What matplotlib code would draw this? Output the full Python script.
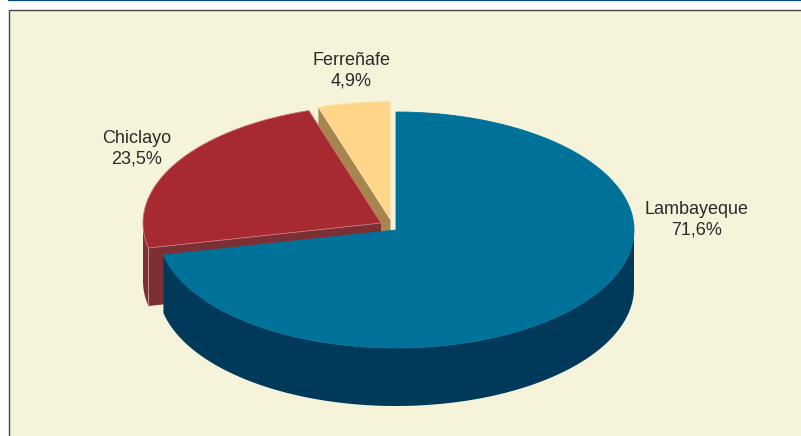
import numpy as np
import matplotlib
matplotlib.use('Agg')
import matplotlib.pyplot as plt
from matplotlib.patches import Polygon, Rectangle

# Data
provinces = ['Lambayeque', 'Chiclayo', 'Ferreñafe']
shares = [71.6, 23.5, 4.9]

top_colors = ['#007299', '#A62A30', '#FFD58A']
side_colors = ['#00395A', '#7D2F36', '#A8854C']
edge_colors = ['#007299', '#C9787C', '#FFE6B0']

# Pie geometry in pixels
centers = [(396, 230), (381, 223), (390.5, 219.5)]
rx, ry = 238, 118
depth = 58
label_pos = [(697, 220), (137, 149), (351, 70.5)]

plt.rcParams['font.family'] = ['Liberation Sans', 'DejaVu Sans']

fig = plt.figure(figsize=(8.01, 4.36), dpi=100)
ax = fig.add_axes([0, 0, 1, 1])
ax.set_xlim(0, 801)
ax.set_ylim(436, 0)
ax.axis('off')

# Background panel and top rule
ax.add_patch(Rectangle((8.5, 10.5), 800, 440, fc='#F5F3D9', ec='#444444', lw=1.0))
ax.plot([8, 801], [0.5, 0.5], color='#004A80', lw=1.6, solid_capstyle='butt')


def arc(center, a0, a1, dy=0):
    a = np.radians(np.linspace(a0, a1, 200))
    return np.column_stack([center[0] + rx * np.cos(a), center[1] - ry * np.sin(a) + dy])


def cut_face(c, p, color):
    ax.add_patch(Polygon([c, p, (p[0], p[1] + depth), (c[0], c[1] + depth)], fc=color, ec='none'))


# Wedge angles run clockwise from 12 o'clock
ends = 90 - np.cumsum(shares) * 3.6
starts = np.r_[90, ends[:-1]]

# Draw back to front: Ferreñafe, Chiclayo, Lambayeque
for i in [2, 1, 0]:
    c = centers[i]
    a0, a1 = starts[i], ends[i]

    # outer rim, only the lower half of the ellipse faces the viewer
    if i == 0:
        rim = (a1, 0)
    elif i == 1:
        rim = (a0, -180)
    else:
        rim = None
    if rim is not None:
        upper = arc(c, rim[0], rim[1])
        lower = arc(c, rim[1], rim[0], depth)
        ax.add_patch(Polygon(np.vstack([upper, lower]), fc=side_colors[i], ec='none'))

    # cut face hanging under the wedge edge
    if i == 1:
        p = arc(c, a0, a0)[0]
        cut_face(c, p, side_colors[i])
        ax.plot([p[0], p[0]], [p[1], p[1] + depth], color='#C9A0A0', lw=0.6)
    if i == 2:
        p = arc(c, a0, a0)[0]
        cut_face(c, p, side_colors[i])

    # top face
    pts = np.vstack([[c], arc(c, a0, a1)])
    ax.add_patch(Polygon(pts, fc=top_colors[i], ec=edge_colors[i], lw=0.6, joinstyle='round'))

# Labels
for name, share, pos in zip(provinces, shares, label_pos):
    txt = name + '\n' + f'{share:.1f}'.replace('.', ',') + '%'
    ax.text(pos[0], pos[1], txt, ha='center', va='center', fontsize=13,
            color='#2B2B2B', linespacing=1.25)

fig.savefig('out.png', dpi=100)
plt.close(fig)
